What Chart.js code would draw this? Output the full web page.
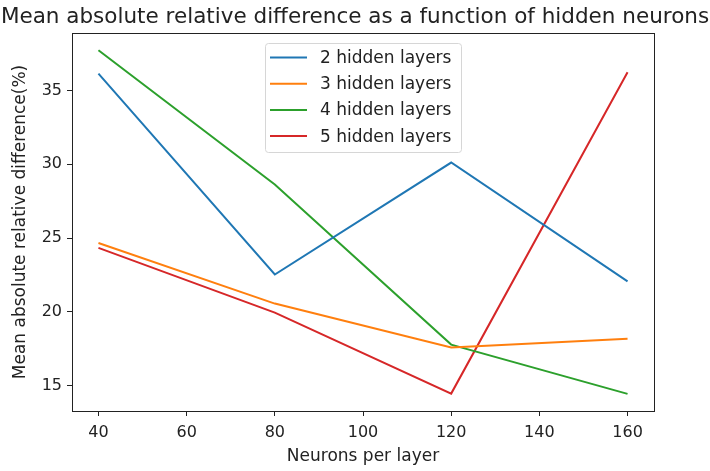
<!DOCTYPE html>
<html>
<head>
<meta charset="utf-8">
<script src="https://cdn.jsdelivr.net/npm/chart.js@4"></script>
<style>
html,body{margin:0;padding:0;background:#fff;}
#wrap{width:710px;height:471px;}
</style>
</head>
<body>
<div id="wrap"><canvas id="c" width="710" height="471"></canvas></div>
<script>
const neurons = [40, 80, 120, 160];
const layers2 = [36.15, 22.53, 30.12, 22.07];
const layers3 = [24.67, 20.56, 17.58, 18.17];
const layers4 = [37.73, 28.63, 17.78, 14.44];
const layers5 = [24.34, 19.95, 14.46, 36.24];
const seriesLabels = ['2 hidden layers', '3 hidden layers', '4 hidden layers', '5 hidden layers'];
const xTicks = [40, 60, 80, 100, 120, 140, 160];
const yTicks = [15, 20, 25, 30, 35];
const colors = ['#1f77b4', '#ff7f0e', '#2ca02c', '#d62728'];
const FONT = "'DejaVu Sans', sans-serif";

const allSeries = [layers2, layers3, layers4, layers5];
const datasets = allSeries.map((s, i) => ({
  label: seriesLabels[i],
  data: neurons.map((x, j) => ({x: x, y: s[j]})),
  borderColor: colors[i],
  backgroundColor: colors[i],
  borderWidth: 2,
  pointRadius: 0,
  tension: 0,
  fill: false
}));

const frame = {
  id: 'frame',
  afterDatasetsDraw(chart) {
    const a = chart.chartArea, ctx = chart.ctx;
    ctx.save();
    ctx.strokeStyle = '#222';
    ctx.lineWidth = 1;
    ctx.strokeRect(Math.round(a.left) + 0.5, Math.round(a.top) + 0.5,
      Math.round(a.right - a.left), Math.round(a.bottom - a.top));
    // legend
    const bx = 265, by = 43, bw = 196, bh = 109;
    ctx.beginPath();
    ctx.roundRect(bx + 0.5, by + 0.5, bw, bh, 3);
    ctx.fillStyle = 'rgba(255,255,255,0.8)';
    ctx.fill();
    ctx.strokeStyle = '#d6d6d6';
    ctx.stroke();
    ctx.font = '17px ' + FONT;
    ctx.textBaseline = 'middle';
    ctx.textAlign = 'left';
    chart.data.datasets.forEach((d, i) => {
      const y = 57.5 + i * 26.2;
      ctx.beginPath();
      ctx.strokeStyle = d.borderColor;
      ctx.lineWidth = 2;
      ctx.moveTo(270, y);
      ctx.lineTo(307, y);
      ctx.stroke();
      ctx.fillStyle = '#222';
      ctx.fillText(d.label, 320, y + 1);
    });
    ctx.restore();
  }
};

new Chart(document.getElementById('c'), {
  type: 'line',
  data: { datasets },
  options: {
    responsive: false,
    animation: false,
    layout: { padding: { left: 0, right: 0, top: 0, bottom: 0 } },
    plugins: {
      legend: { display: false },
      tooltip: { enabled: false },
      title: {
        display: true,
        text: 'Mean absolute relative difference as a function of hidden neurons',
        color: '#222',
        font: { family: FONT, size: 21.5, weight: 'normal', lineHeight: 1.2 },
        padding: { top: 4.2, bottom: 3.0 }
      }
    },
    scales: {
      x: {
        type: 'linear',
        min: 34,
        max: 166,
        afterBuildTicks(s) { s.ticks = xTicks.map(v => ({ value: v })); },
        afterFit(s) { s.height = 60; },
        grid: { drawOnChartArea: false, drawTicks: true, tickLength: 5, color: '#222' },
        border: { display: false },
        ticks: { color: '#222', font: { family: FONT, size: 16 }, padding: 7, maxRotation: 0, autoSkip: false },
        title: {
          display: true, text: 'Neurons per layer', color: '#222',
          font: { family: FONT, size: 17, lineHeight: 1.2 },
          padding: { top: 2, bottom: 4 }
        }
      },
      y: {
        type: 'linear',
        min: 13.28,
        max: 38.9,
        afterBuildTicks(s) { s.ticks = yTicks.map(v => ({ value: v })); },
        afterFit(s) { s.width = 72; },
        grid: { drawOnChartArea: false, drawTicks: true, tickLength: 5, color: '#222' },
        border: { display: false },
        ticks: { color: '#222', font: { family: FONT, size: 16 }, padding: 5, autoSkip: false },
        title: {
          display: true, text: 'Mean absolute relative difference(%)', color: '#222',
          font: { family: FONT, size: 17, lineHeight: 1.2 },
          padding: { top: 10, bottom: 4 }
        }
      },
      spacer: {
        type: 'linear',
        position: 'right',
        display: true,
        afterFit(s) { s.width = 56; },
        grid: { display: false },
        border: { display: false },
        ticks: { display: false }
      }
    }
  },
  plugins: [frame]
});
</script>
</body>
</html>
